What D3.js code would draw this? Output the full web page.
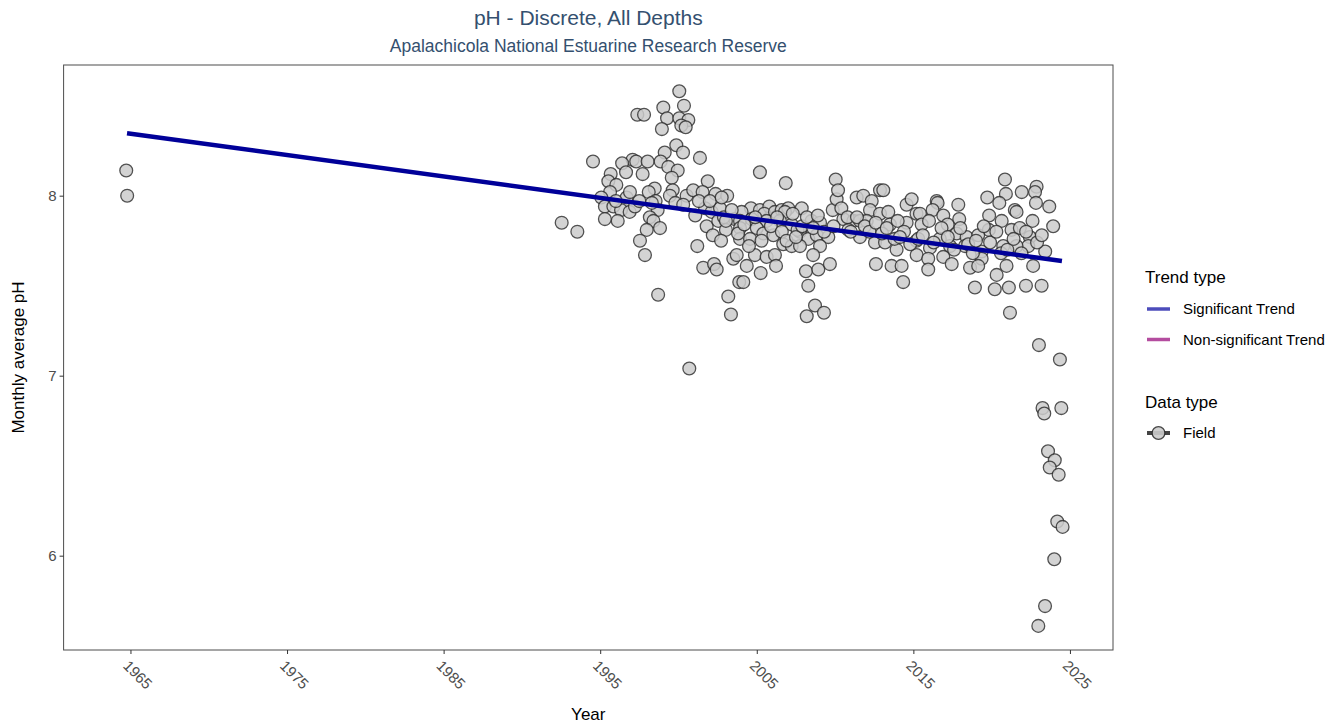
<!DOCTYPE html>
<html>
<head>
<meta charset="utf-8">
<script src="https://cdn.jsdelivr.net/npm/d3@7"></script>
<style>
  html, body { margin: 0; padding: 0; background: #ffffff; }
  svg { display: block; font-family: "Liberation Sans", Arial, sans-serif; }
</style>
</head>
<body>
<svg id="chart" width="1343" height="728"></svg>
<script>
// Monthly average pH samples (decimal year, pH)
const sampleYear = [
  1964.73, 1964.79, 1992.54, 1993.54, 1994.54,
  2000.05, 1999.03, 2000.35, 1997.37, 1997.80, 1999.27, 2000.05, 2000.63, 1998.94, 2000.18,
  2000.46, 1999.86, 1999.12, 2000.29, 2001.37, 1997.07, 1996.40, 1997.30, 1998.03, 1998.86,
  1999.35, 1999.95, 1996.65, 1997.71, 1995.67, 1995.52, 1996.03, 2001.87, 1999.57, 1998.48,
  1998.10, 1995.63, 1999.63, 1999.45, 1995.07, 1996.69, 1998.54, 2000.52, 2000.94, 2001.54,
  2002.37, 2003.11, 1995.30, 1995.84, 1996.33, 1996.88, 1997.22, 1998.67, 1998.17, 1995.30,
  1996.12, 2001.07, 2001.70, 2002.12, 2002.65, 2001.80, 2002.54, 2003.03, 2003.60, 1998.40,
  1998.82, 1997.97, 1997.54, 2002.19, 2002.72, 2001.20, 1997.86, 2001.58, 2002.27, 2002.44,
  2003.50, 2003.88, 1998.70, 2000.69,
  1996.00, 1996.90, 1997.50, 1998.30, 1999.80, 2000.30, 2001.30, 2002.00, 2002.90,
  2005.20, 2006.85, 2010.04, 2004.63, 2004.03, 2005.20, 2005.80, 2005.48, 2006.16, 2006.59,
  2007.01, 2007.87, 2006.80, 2003.03, 2003.93, 2004.67, 2005.63, 2006.48, 2007.23, 2008.50,
  2009.04, 2009.85, 2010.10, 2010.19, 2010.53, 2011.17, 2011.38, 2011.80, 2012.34, 2012.87,
  2013.08, 2012.23, 2012.87, 2013.40, 2011.59, 2012.02, 2013.50, 2014.57, 2014.89, 2015.20,
  2014.57, 2003.93, 2005.00, 2005.42, 2006.06, 2007.76, 2007.60, 2008.29, 2008.83, 2009.57,
  2010.85, 2011.59, 2003.93, 2004.57, 2006.69, 2007.23, 2007.76, 2009.04, 2012.55, 2013.19,
  2013.93, 2015.21, 2008.60, 2003.72, 2004.88, 2005.63, 2006.16, 2004.36, 2006.23, 2005.25,
  2004.14, 2008.14, 2008.93, 2009.67, 2008.29, 2012.61, 2013.61, 2014.25, 2014.35, 2003.18,
  2003.35, 2008.72, 2009.29, 2008.19, 2015.20, 2002.76,
  2003.40, 2003.80, 2004.20, 2004.50, 2004.90, 2005.30, 2005.90, 2006.30, 2006.60, 2006.90,
  2007.30, 2007.50, 2007.90, 2008.20, 2008.60, 2008.90, 2009.30, 2009.90, 2010.40, 2010.80,
  2011.00, 2011.40, 2011.90, 2012.20, 2012.60, 2013.00, 2013.30, 2013.80, 2014.00, 2014.40,
  2014.80,
  2020.85, 2021.92, 2022.87, 2022.77, 2020.91, 2019.72, 2020.49, 2022.83, 2023.68, 2016.49,
  2016.55, 2017.87, 2015.42, 2016.23, 2016.91, 2017.93, 2019.84, 2021.48, 2021.59, 2022.61,
  2023.93, 2015.53, 2017.19, 2020.64, 2019.82, 2021.27, 2021.80, 2022.44, 2022.34, 2014.14,
  2015.31, 2016.69, 2017.76, 2018.40, 2019.14, 2020.74, 2021.59, 2016.06, 2017.34, 2018.30,
  2019.36, 2023.42, 2015.95, 2016.91, 2017.45, 2019.36, 2015.95, 2018.62, 2019.14, 2020.95,
  2022.65, 2020.32, 2018.93, 2020.20, 2021.10, 2022.19, 2023.19, 2021.17,
  2015.60, 2016.00, 2016.30, 2016.80, 2017.20, 2017.60, 2018.00, 2018.50, 2018.80, 2019.00,
  2019.50, 2019.90, 2020.30, 2020.60, 2021.00, 2021.40, 2021.90, 2022.20, 2022.90, 2023.20,
  2023.02, 2024.36, 2023.25, 2023.36, 2024.45, 2023.60, 2024.03, 2023.71, 2024.28, 2024.19,
  2024.53, 2024.00, 2023.41, 2022.98
];
const samplePH = [
  8.14, 8.00, 7.85, 7.80, 8.19,
  8.58, 8.49, 8.50, 8.45, 8.45, 8.43, 8.43, 8.42, 8.37, 8.39,
  8.38, 8.28, 8.24, 8.24, 8.21, 8.20, 8.18, 8.19, 8.19, 8.19,
  8.16, 8.14, 8.13, 8.12, 8.12, 8.08, 8.06, 8.08, 8.10, 8.04,
  8.02, 8.02, 8.03, 8.00, 7.99, 7.99, 7.97, 8.00, 8.03, 8.02,
  8.01, 8.00, 7.94, 7.94, 7.92, 7.91, 7.94, 7.92, 7.88, 7.87,
  7.86, 7.89, 7.93, 7.91, 7.93, 7.83, 7.86, 7.81, 7.87, 7.86,
  7.82, 7.81, 7.75, 7.78, 7.75, 7.72, 7.67, 7.60, 7.62, 7.59,
  7.65, 7.52, 7.45, 7.04,
  7.97, 8.02, 7.97, 7.96, 7.96, 7.95, 7.97, 7.97, 7.88,
  8.13, 8.07, 8.09, 7.93, 7.91, 7.92, 7.94, 7.90, 7.91, 7.92,
  7.93, 7.93, 7.91, 7.86, 7.86, 7.87, 7.86, 7.86, 7.84, 7.86,
  7.85, 7.92, 7.98, 8.03, 7.87, 7.86, 7.99, 8.00, 7.97, 8.03,
  8.03, 7.92, 7.90, 7.91, 7.86, 7.86, 7.84, 7.95, 7.98, 7.90,
  7.85, 7.82, 7.82, 7.79, 7.78, 7.80, 7.81, 7.76, 7.78, 7.77,
  7.81, 7.77, 7.76, 7.76, 7.73, 7.72, 7.72, 7.72, 7.74, 7.74,
  7.70, 7.67, 7.67, 7.67, 7.67, 7.66, 7.67, 7.61, 7.61, 7.57,
  7.52, 7.58, 7.59, 7.62, 7.50, 7.62, 7.61, 7.61, 7.52, 7.44,
  7.34, 7.39, 7.35, 7.33, 7.75, 7.99,
  7.92, 7.79, 7.84, 7.72, 7.88, 7.75, 7.83, 7.88, 7.80, 7.75,
  7.90, 7.77, 7.83, 7.88, 7.82, 7.89, 7.80, 7.83, 7.93, 7.88,
  7.80, 7.88, 7.83, 7.80, 7.85, 7.79, 7.82, 7.76, 7.86, 7.80,
  7.73,
  8.09, 8.02, 8.05, 8.02, 8.01, 7.99, 7.96, 7.96, 7.94, 7.97,
  7.96, 7.95, 7.90, 7.92, 7.89, 7.87, 7.89, 7.92, 7.91, 7.86,
  7.83, 7.84, 7.84, 7.86, 7.81, 7.81, 7.82, 7.77, 7.72, 7.77,
  7.76, 7.76, 7.79, 7.77, 7.78, 7.72, 7.72, 7.71, 7.72, 7.72,
  7.69, 7.69, 7.65, 7.66, 7.62, 7.65, 7.59, 7.60, 7.61, 7.61,
  7.61, 7.56, 7.49, 7.48, 7.49, 7.50, 7.50, 7.35,
  7.78, 7.86, 7.74, 7.82, 7.77, 7.70, 7.82, 7.73, 7.68, 7.75,
  7.83, 7.74, 7.80, 7.68, 7.70, 7.76, 7.68, 7.80, 7.74, 7.78,
  7.17, 7.09, 6.82, 6.79, 6.82, 6.58, 6.53, 6.49, 6.45, 6.19,
  6.16, 5.98, 5.72, 5.61
];

// Fitted trend (significant): endpoints in decimal year / pH
const trendYear = [1964.78, 2024.49];
const trendPH = [8.347, 7.637];

const xTicks = [1965, 1975, 1985, 1995, 2005, 2015, 2025];
const yTicks = [6, 7, 8];

const titleText = "pH - Discrete, All Depths";
const subtitleText = "Apalachicola National Estuarine Research Reserve";
const xTitle = "Year";
const yTitle = "Monthly average pH";
const trendLegendTitle = "Trend type";
const trendLegendLabels = ["Significant Trend", "Non-significant Trend"];
const trendLegendColors = ["#4c4cbb", "#b44c9f"];
const dataLegendTitle = "Data type";
const dataLegendLabels = ["Field"];

// Layout
const W = 1343, H = 728;
const panel = { left: 63.6, top: 65, right: 1113, bottom: 650 };

const svg = d3.select("#chart");
svg.append("rect").attr("width", W).attr("height", H).attr("fill", "#ffffff");

const x = d3.scaleLinear().domain([1960.73, 2027.75]).range([panel.left, panel.right]);
const y = d3.scaleLinear().domain([5.476, 8.726]).range([panel.bottom, panel.top]);

// Titles
svg.append("text")
  .attr("x", (panel.left + panel.right) / 2).attr("y", 25)
  .attr("text-anchor", "middle").attr("font-size", 21).attr("fill", "#34506f")
  .text(titleText);
svg.append("text")
  .attr("x", (panel.left + panel.right) / 2).attr("y", 52)
  .attr("text-anchor", "middle").attr("font-size", 17.5).attr("fill", "#34506f")
  .text(subtitleText);

// Panel clip
svg.append("clipPath").attr("id", "panel-clip")
  .append("rect")
  .attr("x", panel.left).attr("y", panel.top)
  .attr("width", panel.right - panel.left).attr("height", panel.bottom - panel.top);

const plot = svg.append("g").attr("clip-path", "url(#panel-clip)");

const points = sampleYear.map((yr, i) => ({ year: yr, ph: samplePH[i] }));

plot.selectAll("circle.obs")
  .data(points)
  .join("circle")
  .attr("class", "obs")
  .attr("cx", d => x(d.year))
  .attr("cy", d => y(d.ph))
  .attr("r", 6.4)
  .attr("fill", "#cccccc")
  .attr("stroke", "#333333")
  .attr("stroke-width", 1.3)
  .attr("opacity", 0.85);

const trend = trendYear.map((yr, i) => ({ year: yr, ph: trendPH[i] }));
plot.append("path")
  .datum(trend)
  .attr("d", d3.line().x(d => x(d.year)).y(d => y(d.ph)))
  .attr("fill", "none")
  .attr("stroke", "#000099")
  .attr("stroke-width", 4.5);

// Panel border
svg.append("rect")
  .attr("x", panel.left).attr("y", panel.top)
  .attr("width", panel.right - panel.left).attr("height", panel.bottom - panel.top)
  .attr("fill", "none").attr("stroke", "#4d4d4d").attr("stroke-width", 1);

// X axis
const xAxis = d3.axisBottom(x).tickValues(xTicks).tickFormat(d3.format("d")).tickSize(4).tickPadding(0);
const gx = svg.append("g").attr("transform", `translate(0,${panel.bottom})`).call(xAxis);
gx.select(".domain").remove();
gx.selectAll(".tick line").attr("stroke", "#333333").attr("stroke-width", 1);
gx.selectAll(".tick text")
  .attr("fill", "#4d4d4d").attr("font-size", 15).attr("font-family", "Liberation Sans, Arial, sans-serif")
  .attr("text-anchor", "start")
  .attr("y", 0).attr("dy", "0.72em")
  .attr("transform", "translate(-1,9) rotate(45)");

// Y axis
const yAxis = d3.axisLeft(y).tickValues(yTicks).tickFormat(d3.format("d")).tickSize(4).tickPadding(3);
const gy = svg.append("g").attr("transform", `translate(${panel.left},0)`).call(yAxis);
gy.select(".domain").remove();
gy.selectAll(".tick line").attr("stroke", "#333333").attr("stroke-width", 1);
gy.selectAll(".tick text")
  .attr("fill", "#4d4d4d").attr("font-size", 15).attr("font-family", "Liberation Sans, Arial, sans-serif");

// Axis titles
svg.append("text")
  .attr("x", (panel.left + panel.right) / 2).attr("y", 720)
  .attr("text-anchor", "middle").attr("font-size", 17).attr("fill", "#000")
  .text(xTitle);
svg.append("text")
  .attr("transform", `translate(24,${(panel.top + panel.bottom) / 2}) rotate(-90)`)
  .attr("text-anchor", "middle").attr("font-size", 17).attr("fill", "#000")
  .text(yTitle);

// Legend: trend type
const lg = svg.append("g").attr("transform", "translate(1145,0)");
lg.append("text").attr("x", 0).attr("y", 283).attr("font-size", 17).attr("fill", "#000").text(trendLegendTitle);
trendLegendLabels.forEach((lab, i) => {
  const cy = 309 + i * 30.5;
  lg.append("line").attr("x1", 2).attr("x2", 25).attr("y1", cy).attr("y2", cy)
    .attr("stroke", trendLegendColors[i]).attr("stroke-width", 3.5);
  lg.append("text").attr("x", 38).attr("y", cy).attr("dy", "0.36em")
    .attr("font-size", 15).attr("fill", "#000").text(lab);
});

// Legend: data type
lg.append("text").attr("x", 0).attr("y", 408).attr("font-size", 17).attr("fill", "#000").text(dataLegendTitle);
dataLegendLabels.forEach((lab, i) => {
  const cy = 433 + i * 30.5;
  lg.append("line").attr("x1", 2).attr("x2", 25).attr("y1", cy).attr("y2", cy)
    .attr("stroke", "#444444").attr("stroke-width", 4);
  lg.append("circle").attr("cx", 13.5).attr("cy", cy).attr("r", 6.4)
    .attr("fill", "#cccccc").attr("stroke", "#333333").attr("stroke-width", 1.3).attr("opacity", 0.9);
  lg.append("text").attr("x", 38).attr("y", cy).attr("dy", "0.36em")
    .attr("font-size", 15).attr("fill", "#000").text(lab);
});
</script>
</body>
</html>
